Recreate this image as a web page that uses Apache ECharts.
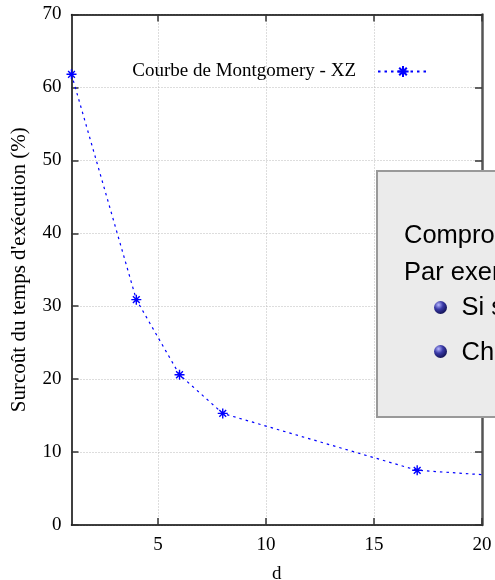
<!DOCTYPE html>
<html>
<head>
<meta charset="utf-8">
<script src="https://cdn.jsdelivr.net/npm/echarts@6/dist/echarts.min.js"></script>
<style>html,body{margin:0;padding:0;background:#fff;}#c{width:495px;height:580px;}</style>
</head>
<body>
<div id="c"></div>
<script>
var xValues = [1, 4, 6, 8, 17, 20];
var yValues = [61.8, 30.9, 20.6, 15.3, 7.5, 6.9];
var xTicks = [5, 10, 15, 20];
var yTicks = [0, 10, 20, 30, 40, 50, 60, 70];
var seriesName = 'Courbe de Montgomery - XZ';
var xName = 'd';
var yName = "Surcoût du temps d'exécution (%)";
var boxLines = ['Compromis', 'Par exemple'];
var boxBullets = ['Si s', 'Cha'];

var serif = '"Liberation Serif", "Times New Roman", serif';
var sans = '"Liberation Sans", Arial, sans-serif';
var star = 'path://M5,0L5,10M0,5L10,5M1.6,1.6L8.4,8.4M1.6,8.4L8.4,1.6';

var data = xValues.map(function (x, i) {
  var d = { value: [x, yValues[i]] };
  if (i === xValues.length - 1) d.symbolSize = 0;
  return d;
});

var chart = echarts.init(document.getElementById('c'), null, { renderer: 'canvas' });
var gridL = 71.5, gridR = 13, gridT = 14.5, gridB = 55;

function ballFill() {
  return new echarts.graphic.RadialGradient(0.35, 0.3, 0.75, [
    { offset: 0, color: '#b8b8ff' },
    { offset: 0.45, color: '#3a3aa8' },
    { offset: 1, color: '#101050' }
  ]);
}

var bf = '25.5px ' + sans;
var graphics = [
  { type: 'rect', z: 100, shape: { x: 377, y: 171, width: 200, height: 246 },
    style: { fill: '#ebebeb', stroke: '#999999', lineWidth: 2 } },
  { type: 'text', z: 101, x: 404, y: 236, style: { text: boxLines[0], font: bf, fill: '#000', verticalAlign: 'middle' } },
  { type: 'text', z: 101, x: 404, y: 273, style: { text: boxLines[1], font: bf, fill: '#000', verticalAlign: 'middle' } },
  { type: 'circle', z: 101, shape: { cx: 440.5, cy: 307.5, r: 6.5 }, style: { fill: ballFill() } },
  { type: 'text', z: 101, x: 461.5, y: 308, style: { text: boxBullets[0], font: bf, fill: '#000', verticalAlign: 'middle' } },
  { type: 'circle', z: 101, shape: { cx: 440.5, cy: 351.5, r: 6.5 }, style: { fill: ballFill() } },
  { type: 'text', z: 101, x: 461.5, y: 353, style: { text: boxBullets[1], font: bf, fill: '#000', verticalAlign: 'middle' } }
];

var fs = 19;
var option = {
  animation: false,
  backgroundColor: '#ffffff',
  grid: { left: gridL, right: gridR, top: gridT, bottom: gridB, containLabel: false, outerBoundsMode: 'none' },
  legend: {
    data: [seriesName],
    right: 66, top: 62, padding: 0,
    align: 'right',
    itemWidth: 50, itemHeight: 14,
    textStyle: { fontFamily: serif, fontSize: fs, color: '#000', padding: [0, 17, 0, 0] }
  },
  xAxis: [
    {
      type: 'value', min: 1, max: 20, position: 'bottom',
      name: xName, nameLocation: 'middle', nameGap: 40,
      nameTextStyle: { fontFamily: serif, fontSize: fs, color: '#000' },
      axisLine: { show: true, onZero: false, lineStyle: { color: '#000', width: 1.5 } },
      axisTick: { show: true, inside: true, length: 7, customValues: xTicks, lineStyle: { color: '#333', width: 1.5 } },
      axisLabel: { customValues: xTicks, margin: 11, fontFamily: serif, fontSize: fs, color: '#000' },
      splitLine: { show: true, lineStyle: { color: '#bbbbbb', type: [1, 2], width: 1 } }
    },
    {
      type: 'value', min: 1, max: 20, position: 'top',
      axisLine: { show: true, onZero: false, lineStyle: { color: '#000', width: 1.5 } },
      axisTick: { show: true, inside: true, length: 7, customValues: xTicks, lineStyle: { color: '#333', width: 1.5 } },
      axisLabel: { show: false },
      splitLine: { show: false }
    }
  ],
  yAxis: [
    {
      type: 'value', min: 0, max: 70, interval: 10, position: 'left',
      name: yName, nameLocation: 'middle', nameGap: 42,
      nameTextStyle: { fontFamily: serif, fontSize: 21, color: '#000' },
      axisLine: { show: true, onZero: false, lineStyle: { color: '#000', width: 1.5 } },
      axisTick: { show: true, inside: true, length: 7, lineStyle: { color: '#333', width: 1.5 } },
      axisLabel: { margin: 10, fontFamily: serif, fontSize: fs, color: '#000' },
      splitLine: { show: true, lineStyle: { color: '#bbbbbb', type: [1, 2], width: 1 } }
    },
    {
      type: 'value', min: 0, max: 70, interval: 10, position: 'right',
      axisLine: { show: true, onZero: false, lineStyle: { color: '#555', width: 2.5 } },
      axisTick: { show: true, inside: true, length: 7, lineStyle: { color: '#333', width: 1.5 } },
      axisLabel: { show: false },
      splitLine: { show: false }
    }
  ],
  series: [
    {
      name: seriesName, type: 'line', xAxisIndex: 0, yAxisIndex: 0,
      data: data,
      symbol: star, symbolSize: 10, showSymbol: true,
      lineStyle: { color: '#0000ff', width: 1.2, type: [2.5, 4] },
      itemStyle: { color: '#0000ff', borderColor: '#0000ff', borderWidth: 1.4 },
      clip: false
    }
  ],
  graphic: graphics
};
chart.setOption(option);
</script>
</body>
</html>
